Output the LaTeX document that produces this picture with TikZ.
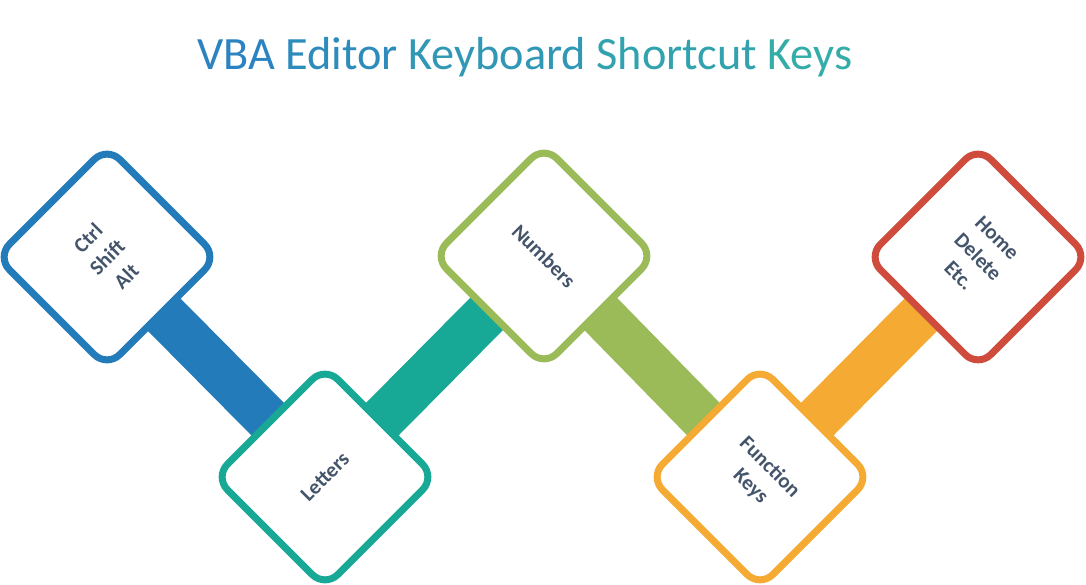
\documentclass[tikz,border=0pt]{standalone}
\usepackage{fontspec}
\setmainfont{Carlito}
\usetikzlibrary{backgrounds}
\definecolor{cblue}{RGB}{36,123,185}
\definecolor{cteal}{RGB}{23,169,150}
\definecolor{cgreen}{RGB}{155,187,89}
\definecolor{corange}{RGB}{245,170,52}
\definecolor{cred}{RGB}{207,75,59}
\definecolor{ctext}{RGB}{68,84,106}
\definecolor{tblue}{RGB}{44,131,193}
\definecolor{tteal}{RGB}{52,176,166}
\begin{document}
\begin{tikzpicture}[x=1pt,y=-1pt,
  keybox/.style={draw=#1, line width=7pt, fill=white, rounded corners=18pt,
    minimum size=156pt, inner sep=0pt, align=center, text=ctext,
    font=\fontsize{21}{27}\selectfont\bfseries},
  linkbar/.style={draw=#1, line width=46pt}]
\useasboundingbox (0,0) rectangle (1086,585);
\node[anchor=base west, inner sep=0pt, font=\fontsize{46.3}{56}\selectfont] (title) at (197,70)
  {\textcolor{tblue}{VBA} \textcolor{tteal!20!tblue}{Editor} \textcolor{tteal!45!tblue}{Keyboard} \textcolor{tteal!72!tblue}{Shortcut} \textcolor{tteal!93!tblue}{Keys}};
\node[keybox=cblue, rotate=45] (ctrl) at (107,257) {Ctrl\\Shift\\Alt};
\node[keybox=cteal, rotate=45] (letters) at (325,477) {Letters};
\node[keybox=cgreen, rotate=-45] (numbers) at (544,256) {Numbers};
\node[keybox=corange, rotate=-45] (function) at (760,477) {Function\\Keys};
\node[keybox=cred, rotate=-45] (home) at (978,257) {Home\\Delete\\Etc.};
\begin{scope}[on background layer]
  \fill[white] (0,0) rectangle (1086,585);
  \draw[linkbar=cblue] (ctrl.center) -- (letters.center);
  \draw[linkbar=cteal] (letters.center) -- (numbers.center);
  \draw[linkbar=cgreen] (numbers.center) -- (function.center);
  \draw[linkbar=corange] (function.center) -- (home.center);
\end{scope}
\end{tikzpicture}
\end{document}
